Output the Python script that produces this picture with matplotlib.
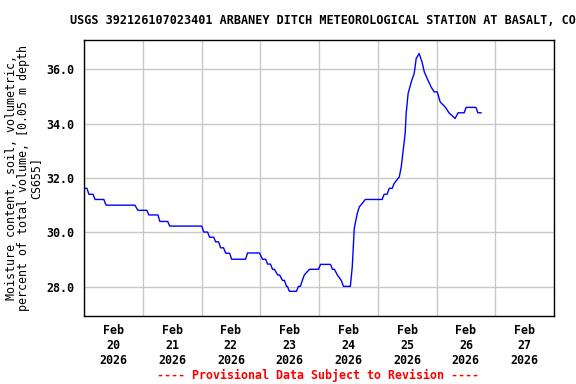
import matplotlib
matplotlib.use("Agg")
import matplotlib.pyplot as plt
import matplotlib.dates as mdates
import pandas as pd

# hours after 2026-02-20 00:00 and soil moisture (percent)
hours = [0.0, 1.2, 2.0, 3.7, 4.5, 8.1, 9.0, 20.8, 22.0, 25.7, 26.5, 30.2, 31.0,
         34.2, 35.0, 48.1, 48.9, 50.5, 51.3, 53.0, 53.8, 55.0, 55.8, 57.0, 57.9,
         59.5, 60.3, 66.0, 66.8, 71.7, 72.9, 74.2, 75.0, 76.2, 77.0, 77.8, 79.1,
         79.9, 81.1, 81.9, 82.7, 83.1, 83.9, 86.8, 87.6, 88.4, 89.2, 90.0, 92.1,
         95.8, 96.6, 100.7, 101.5, 102.3, 103.5, 105.1, 106.0, 108.8, 109.6,
         110.4, 111.7, 112.5, 113.7, 114.9, 121.8, 122.6, 123.8, 124.7, 125.9,
         126.7, 128.0, 128.8, 129.6, 130.4, 131.2, 131.6, 132.4, 133.7, 134.9,
         135.7, 136.9, 138.1, 139.0, 140.2, 141.8, 143.0, 144.3, 145.5, 147.5,
         149.1, 151.6, 152.8, 155.3, 156.1, 160.1, 160.9, 162.2]
moisture = [31.62, 31.62, 31.40, 31.40, 31.21, 31.21, 31.00, 31.00, 30.81, 30.81,
            30.64, 30.64, 30.40, 30.40, 30.23, 30.23, 30.01, 30.01, 29.82, 29.82,
            29.65, 29.65, 29.43, 29.43, 29.23, 29.23, 29.01, 29.01, 29.24, 29.24,
            29.01, 29.01, 28.83, 28.83, 28.64, 28.64, 28.43, 28.43, 28.23, 28.23,
            28.01, 28.01, 27.83, 27.83, 28.01, 28.01, 28.23, 28.43, 28.64, 28.64,
            28.82, 28.82, 28.64, 28.64, 28.43, 28.23, 28.01, 28.01, 28.74, 30.15,
            30.72, 30.94, 31.07, 31.21, 31.21, 31.40, 31.40, 31.62, 31.62, 31.80,
            31.95, 32.04, 32.41, 33.03, 33.64, 34.37, 35.11, 35.54, 35.85, 36.40,
            36.58, 36.27, 35.91, 35.66, 35.35, 35.17, 35.17, 34.80, 34.62, 34.40,
            34.19, 34.40, 34.40, 34.60, 34.60, 34.40, 34.40]

start = pd.Timestamp("2026-02-20")
times = [start + pd.Timedelta(hours=h) for h in hours]

title = "USGS 392126107023401 ARBANEY DITCH METEOROLOGICAL STATION AT BASALT, CO"
ylabel = "Moisture content, soil, volumetric,\npercent of total volume, [0.05 m depth\nCS655]"
footer = "---- Provisional Data Subject to Revision ----"

plt.rcParams['font.family'] = 'DejaVu Sans Mono'
plt.rcParams['font.weight'] = 'bold'

fig = plt.figure(figsize=(5.76, 3.84), dpi=100)
ax = fig.add_axes([84/576, 1 - 316/384, 470/576, 276/384])

ax.plot(times, moisture, color='#0000ff', linewidth=1.0)

ax.set_xlim(start, start + pd.Timedelta(days=8))
ax.set_ylim(26.92, 37.08)

ax.set_yticks([28, 30, 32, 34, 36])
ax.set_yticklabels(["28.0", "30.0", "32.0", "34.0", "36.0"])
ax.xaxis.set_major_locator(mdates.HourLocator(byhour=[12]))
ax.xaxis.set_major_formatter(mdates.DateFormatter("%b\n%d\n%Y"))
ax.xaxis.set_minor_locator(mdates.DayLocator())
ax.tick_params(axis='both', which='both', length=0, labelsize=8.4, pad=7)
ax.tick_params(axis='x', pad=6)
ax.grid(True, axis='y', color='#c8c8c8', linewidth=1)
ax.grid(True, axis='x', which='minor', color='#c8c8c8', linewidth=1)
ax.set_axisbelow(True)
for s in ax.spines.values():
    s.set_linewidth(1.0)

ax.set_ylabel(ylabel, fontsize=8.4, labelpad=3, linespacing=0.93)
fig.text(70/576, 1 - 20/384, title, ha='left', va='center', fontsize=8.5)
fig.text(318/576, 1 - 375/384, footer, ha='center', va='center', fontsize=8.4, color='red')

fig.savefig("out.png", dpi=100)
